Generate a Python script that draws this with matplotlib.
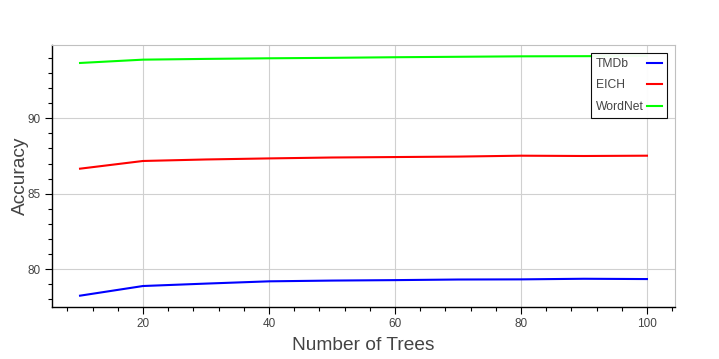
import matplotlib
matplotlib.use("Agg")
import matplotlib.pyplot as plt
from matplotlib.ticker import MultipleLocator

# accuracy vs number of trees
n_trees = [10, 20, 30, 40, 50, 60, 70, 80, 90, 100]
tmdb = [78.25, 78.89, 79.05, 79.2, 79.25, 79.28, 79.32, 79.33, 79.37, 79.35]
eich = [86.66, 87.17, 87.27, 87.34, 87.4, 87.43, 87.46, 87.52, 87.5, 87.52]
wordnet = [93.66, 93.88, 93.93, 93.97, 94.0, 94.04, 94.07, 94.1, 94.11, 94.13]

plt.rcParams['font.family'] = ['Liberation Sans', 'DejaVu Sans']
TXT = '#444444'

fig = plt.figure(figsize=(7.19, 3.59), dpi=100)
ax = fig.add_axes([52 / 719, 1 - 306.7 / 359, (675 - 52) / 719, (306.7 - 44.7) / 359])

ax.plot(n_trees, tmdb, color='#0000ff', linewidth=1.5, label='TMDb')
ax.plot(n_trees, eich, color='#ff0000', linewidth=1.5, label='EICH')
ax.plot(n_trees, wordnet, color='#00ff00', linewidth=1.5, label='WordNet')

ax.set_xlim(5.55, 104.45)
ax.set_ylim(77.52, 94.87)
ax.xaxis.set_major_locator(MultipleLocator(20))
ax.xaxis.set_minor_locator(MultipleLocator(4))
ax.yaxis.set_major_locator(MultipleLocator(5))
ax.yaxis.set_minor_locator(MultipleLocator(1))

ax.grid(True, which='major', color='#d0d0d0', linewidth=0.8)
ax.set_axisbelow(True)

for side in ['top', 'right']:
    ax.spines[side].set_color('#c0c0c0')
    ax.spines[side].set_linewidth(0.8)
for side in ['left', 'bottom']:
    ax.spines[side].set_color('black')
    ax.spines[side].set_linewidth(1.0)

ax.tick_params(which='major', direction='out', length=5, width=0.8, color='black',
               labelsize=8.5, labelcolor=TXT, pad=3)
ax.tick_params(which='minor', direction='out', length=3, width=0.8, color='black')

ax.set_xlabel('Number of Trees', fontsize=13.8, color=TXT, labelpad=5)
ax.set_ylabel('Accuracy', fontsize=13.8, color=TXT, labelpad=-1)

leg_fs = 8.7
leg = ax.legend(loc='upper right', bbox_to_anchor=(614.7 / 623, 1 - 8.6 / 262), markerfirst=False,
                fontsize=leg_fs, frameon=True, fancybox=False, framealpha=0.95, edgecolor='black',
                handlelength=1.25, handletextpad=0.22, borderpad=0.4, labelspacing=0.77,
                borderaxespad=0)
leg.get_frame().set_linewidth(0.8)
for t in leg.get_texts():
    t.set_color(TXT)

# bokeh-style legend: labels left aligned, line samples lined up on the right
fig.canvas.draw()
renderer = fig.canvas.get_renderer()
widths = [t.get_window_extent(renderer).width for t in leg.get_texts()]
wmax = max(widths)
rows = []
for col in leg._legend_handle_box.get_children():
    rows.extend(col.get_children())
for row, w in zip(rows, widths):
    row.sep = 0.22 * leg_fs + (wmax - w) * 72 / fig.dpi

fig.savefig('out.png', dpi=100)
